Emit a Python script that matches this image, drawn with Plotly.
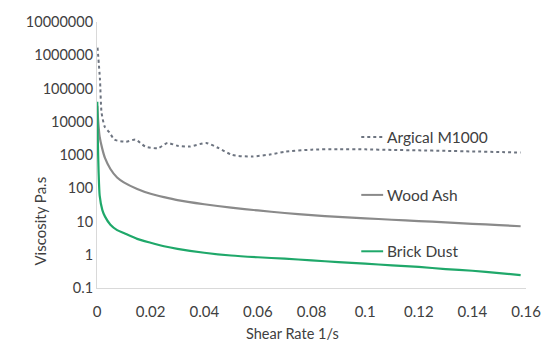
import plotly.graph_objects as go

# Argical M1000 (dotted)
arg_x = [0.0002, 0.0011, 0.0017, 0.0029, 0.0047, 0.0065, 0.0108, 0.0144, 0.018, 0.0227,
         0.0263, 0.03, 0.0346, 0.0407, 0.0454, 0.0505, 0.0577, 0.065, 0.07, 0.08,
         0.09, 0.1, 0.11, 0.12, 0.13, 0.14, 0.15, 0.158]
arg_y = [1700000, 190000, 19000, 7000, 4700, 2900, 2500, 2900, 1800, 1600,
         2300, 1900, 1800, 2300, 1600, 1000, 900, 1050, 1250, 1450,
         1500, 1480, 1420, 1380, 1330, 1280, 1230, 1180]

# Wood Ash
wood_x = [0.0001, 0.0005, 0.001, 0.002, 0.003, 0.005, 0.0075, 0.01, 0.015, 0.02, 0.025,
          0.03, 0.04, 0.05, 0.06, 0.07, 0.08, 0.09, 0.1, 0.11, 0.12, 0.13, 0.14, 0.15, 0.158]
wood_y = [30000, 9000, 3500, 1500, 800, 380, 210, 150, 95, 68, 54,
          44, 33, 26, 21.5, 18, 15.5, 13.8, 12.5, 11.3, 10.3, 9.4, 8.5, 7.8, 7.2]

# Brick Dust
brick_x = [0.0001, 0.0003, 0.0006, 0.001, 0.002, 0.003, 0.005, 0.0075, 0.01, 0.015, 0.02,
           0.025, 0.03, 0.04, 0.05, 0.06, 0.07, 0.08, 0.09, 0.1, 0.11, 0.12, 0.13, 0.14,
           0.15, 0.158]
brick_y = [40000, 3000, 300, 60, 22, 14, 8, 5.5, 4.5, 3, 2.3,
           1.8, 1.5, 1.15, 0.95, 0.84, 0.76, 0.68, 0.6, 0.54, 0.48, 0.43, 0.37, 0.33,
           0.28, 0.245]

x_ticks = [0, 0.02, 0.04, 0.06, 0.08, 0.1, 0.12, 0.14, 0.16]
x_tick_labels = ["0", "0.02", "0.04", "0.06", "0.08", "0.1", "0.12", "0.14", "0.16"]
y_ticks = [0.1, 1, 10, 100, 1000, 10000, 100000, 1000000, 10000000]
y_tick_labels = ["0.1", "1", "10", "100", "1000", "10000", "100000", "1000000", "10000000"]

series_names = ["Argical M1000", "Wood Ash", "Brick Dust"]
colors = ["#6d7480", "#8a8a8a", "#1fa86a"]
dashes = ["dot", "solid", "solid"]

FONT = "Lato, 'Open Sans', sans-serif"

fig = go.Figure()
for xs, ys, name, c, d in zip([arg_x, wood_x, brick_x], [arg_y, wood_y, brick_y],
                              series_names, colors, dashes):
    fig.add_trace(go.Scatter(x=xs, y=ys, mode="lines", name=name,
                             line=dict(color=c, width=2.2 if d == "solid" else 2, dash=d,
                                       shape="spline", smoothing=0.6),
                             showlegend=False))

# Inline legend keys + labels
label_y = [0.568, 0.350, 0.138]
for name, c, d, ly in zip(series_names, colors, dashes, label_y):
    fig.add_shape(type="line", xref="paper", yref="paper", x0=0.616, x1=0.667, y0=ly, y1=ly,
                  line=dict(color=c, width=2, dash=d))
    fig.add_annotation(xref="paper", yref="paper", x=0.671, y=ly, text=name, showarrow=False,
                       xanchor="left", yanchor="middle", font=dict(family=FONT, size=15.5, color="#404040"))

fig.add_annotation(xref="paper", yref="paper", x=-0.135, y=0.25, text="Viscosity Pa.s",
                   textangle=-90, showarrow=False, xanchor="center", yanchor="middle",
                   font=dict(family=FONT, size=15, color="#404040"))
fig.add_annotation(xref="paper", yref="paper", x=0.455, y=-0.17, text="Shear Rate 1/s",
                   showarrow=False, xanchor="center", yanchor="middle",
                   font=dict(family=FONT, size=14.5, color="#404040"))

fig.update_layout(
    width=553, height=341,
    margin=dict(l=97, r=12, t=22, b=53),
    paper_bgcolor="white", plot_bgcolor="white",
    font=dict(family=FONT, size=15, color="#404040"),
    xaxis=dict(range=[0, 0.16], tickvals=x_ticks, ticktext=x_tick_labels,
               showgrid=False, zeroline=False, showline=True, linecolor="#d9d9d9",
               linewidth=1, ticks="", tickfont=dict(size=15), ticklabelstandoff=10,
               ticklabeloverflow="allow"),
    yaxis=dict(type="log", range=[-1, 7], tickvals=y_ticks, ticktext=y_tick_labels,
               showgrid=False, zeroline=False, showline=True, linecolor="#d9d9d9",
               linewidth=1, ticks="", tickfont=dict(size=14.5)),
)

fig.write_html("out.html")
